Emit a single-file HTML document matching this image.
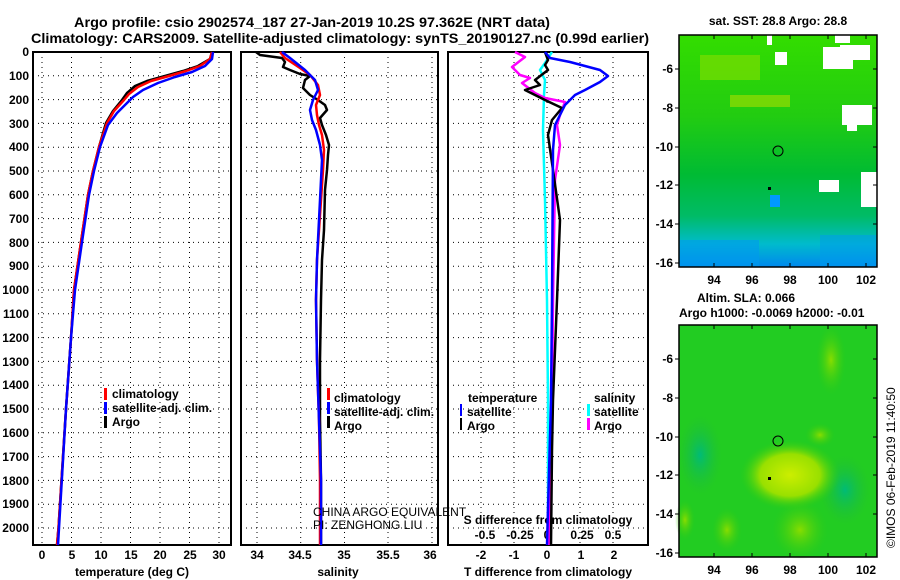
<!DOCTYPE html>
<html><head><meta charset="utf-8"><style>
body{margin:0;background:#fff;overflow:hidden;}
svg{display:block;font-family:"Liberation Sans",sans-serif;font-weight:bold;}
</style></head><body>
<svg width="900" height="580" viewBox="0 0 900 580" xmlns="http://www.w3.org/2000/svg">
<defs>
<linearGradient id="g1" x1="0" y1="0" x2="0" y2="1">
<stop offset="0" stop-color="#33dd00"/><stop offset="0.35" stop-color="#22cc11"/>
<stop offset="0.6" stop-color="#00bb33"/><stop offset="0.78" stop-color="#00bb66"/>
<stop offset="0.9" stop-color="#00bbcc"/><stop offset="1" stop-color="#0088ee"/>
</linearGradient>
<radialGradient id="y2" cx="0.5" cy="0.5" r="0.5"><stop offset="0" stop-color="#ccee00"/><stop offset="0.6" stop-color="#99e000"/><stop offset="1" stop-color="#33cc11" stop-opacity="0"/></radialGradient>
<radialGradient id="t2" cx="0.5" cy="0.5" r="0.5"><stop offset="0" stop-color="#00bb77"/><stop offset="1" stop-color="#22bb33" stop-opacity="0"/></radialGradient>
<radialGradient id="l2" cx="0.5" cy="0.5" r="0.5"><stop offset="0" stop-color="#88dd00"/><stop offset="1" stop-color="#33cc11" stop-opacity="0"/></radialGradient>
</defs>
<g font-size="14" text-anchor="middle">
<text x="312" y="27" textLength="476" lengthAdjust="spacingAndGlyphs">Argo profile: csio 2902574_187 27-Jan-2019 10.2S 97.362E (NRT data)</text>
<text x="340" y="43" textLength="618" lengthAdjust="spacingAndGlyphs">Climatology: CARS2009. Satellite-adjusted climatology: synTS_20190127.nc (0.99d earlier)</text>
</g>
<g stroke="#000" stroke-width="1" stroke-dasharray="1,4" fill="none">
<path id="hg" d="M33 75.8H231M33 99.6H231M33 123.4H231M33 147.2H231M33 171H231M33 194.8H231M33 218.6H231M33 242.4H231M33 266.2H231M33 290H231M33 313.8H231M33 337.6H231M33 361.4H231M33 385.2H231M33 409H231M33 432.8H231M33 456.6H231M33 480.4H231M33 504.2H231M33 528H231"/>
<use href="#hg" x="208"/><use href="#hg" x="415"/>
<path d="M42 52V545M71.5 52V545M101 52V545M130.5 52V545M160 52V545M189.5 52V545M219 52V545"/>
<path d="M257 52V545M300.7 52V545M344.5 52V545M388 52V545M432 52V545"/>
<path d="M481 52V545M514 52V545M547 52V545M580 52V545M613 52V545"/>
</g>
<g stroke="#000" stroke-width="2" fill="none">
<rect x="33" y="52" width="198" height="493"/>
<rect x="241" y="52" width="197" height="493"/>
<rect x="448" y="52" width="200" height="493"/>
</g>
<g font-size="12" text-anchor="end">
<text x="29" y="56">0</text><text x="29" y="80">100</text><text x="29" y="104">200</text><text x="29" y="128">300</text><text x="29" y="151">400</text><text x="29" y="175">500</text><text x="29" y="199">600</text><text x="29" y="223">700</text><text x="29" y="247">800</text><text x="29" y="270">900</text><text x="29" y="294">1000</text><text x="29" y="318">1100</text><text x="29" y="342">1200</text><text x="29" y="366">1300</text><text x="29" y="389">1400</text><text x="29" y="413">1500</text><text x="29" y="437">1600</text><text x="29" y="461">1700</text><text x="29" y="485">1800</text><text x="29" y="508">1900</text><text x="29" y="532">2000</text>
</g>
<g font-size="12" text-anchor="middle">
<text x="42" y="559">0</text><text x="72" y="559">5</text><text x="101" y="559">10</text><text x="131" y="559">15</text><text x="160" y="559">20</text><text x="190" y="559">25</text><text x="219" y="559">30</text>
<text x="132" y="576">temperature (deg C)</text>
<text x="257" y="559">34</text><text x="300" y="559">34.5</text><text x="344" y="559">35</text><text x="388" y="559">35.5</text><text x="430" y="559">36</text>
<text x="338" y="576">salinity</text>
<text x="481" y="559">-2</text><text x="514" y="559">-1</text><text x="547" y="559">0</text><text x="581" y="559">1</text><text x="614" y="559">2</text>
<text x="548" y="576">T difference from climatology</text>
<text x="485" y="539">-0.5</text><text x="520" y="539">-0.25</text><text x="547" y="539">0</text><text x="582" y="539">0.25</text><text x="613" y="539">0.5</text>
<text x="548" y="524">S difference from climatology</text>
</g>
<g fill="none" stroke-width="2.5" stroke-linejoin="round">
<polyline stroke="#000" points="212,52 210,59 198,66 183,71 165,76 147,81 135,86 127,93 122,100 113,111 106,123 99,147 93,171 88,195 81,242 74,290 71,338 66,409 58.5,528 57,545"/>
<polyline stroke="#f00" points="212,52 210,59 200,66 186,71 169,76 151,81 138,87 129,94 124,100 114,111 107,123 99,147 93,171 88,195 81,242 74,290 71,338 66,409 58.5,528 57,545"/>
<polyline stroke="#00f" points="213,52 212,59 205,66 192,72 175,77 158,83 143,90 133,97 127,103 117,113 108,125 100,147 94,171 89,195 82,242 75,290 71,338 66,409 59,528 58,545"/>
</g>
<g fill="none" stroke-width="2.5" stroke-linejoin="round">
<polyline stroke="#000" points="256,52 260,55 282,58 285,62 283,67 290,70 300,74 310,76 305,80 303,88 310,95 318,100 325,105 327,110 320,118 322,125 326,135 329,145 328,155 327,170 325,190 324,230 322,260 321,300 320,360 320,420 321,480 321,545"/>
<polyline stroke="#f00" points="280,52 285,58 300,68 310,75 318,85 320,95 316,105 317,115 319,125 322,135 324,150 323,170 321,200 319,230 317,260 316,300 317,360 319,420 320,480 320,545"/>
<polyline stroke="#00f" points="282,52 290,58 305,70 315,80 318,90 313,100 310,110 312,120 316,130 320,145 322,160 321,180 319,220 317,260 316,300 317,360 319,420 321,480 321,545"/>
</g>
<g fill="none" stroke-width="2.5" stroke-linejoin="round">
<polyline stroke="#0ff" points="552,52 545,63 540,70 545,80 544,95 543,130 545,200 547,300 548,400 548,545"/>
<polyline stroke="#f0f" points="515,52 525,57 512,67 520,75 530,78 522,83 535,93 545,98 565,102 560,115 557,125 560,145 555,180 553,300 552,400 549,545"/>
<polyline stroke="#000" points="545,52 548,60 545,65 548,70 535,80 540,85 525,90 545,100 562,108 552,120 548,135 553,170 560,220 557,300 553,400 552,450 551,545"/>
<polyline stroke="#00f" points="545,52 550,58 570,62 600,70 608,76 600,82 585,90 575,95 565,105 560,115 555,125 553,150 552,300 551,400 547,545"/>
</g>
<g font-size="12">
<rect x="104" y="388" width="3" height="12" fill="#f00"/><text x="112" y="398">climatology</text>
<rect x="104" y="402" width="3" height="12" fill="#00f"/><text x="112" y="412">satellite-adj. clim.</text>
<rect x="104" y="416" width="3" height="12" fill="#000"/><text x="112" y="426">Argo</text>
<rect x="327" y="388" width="3" height="12" fill="#f00"/><text x="334" y="402">climatology</text>
<rect x="327" y="402" width="3" height="12" fill="#00f"/><text x="334" y="416">satellite-adj. clim.</text>
<rect x="327" y="416" width="3" height="12" fill="#000"/><text x="334" y="430">Argo</text>
<text x="468" y="402">temperature</text>
<rect x="460" y="404" width="2" height="12" fill="#00f"/><text x="467" y="416">satellite</text>
<rect x="460" y="418" width="2" height="12" fill="#000"/><text x="467" y="430">Argo</text>
<text x="594" y="402">salinity</text>
<rect x="587" y="404" width="3" height="12" fill="#0ff"/><text x="594" y="416">satellite</text>
<rect x="587" y="418" width="3" height="12" fill="#f0f"/><text x="594" y="430">Argo</text>
<g font-weight="normal"><text x="313" y="516">CHINA ARGO EQUIVALENT</text><text x="313" y="529">PI: ZENGHONG LIU</text></g>
</g>
<g>
<rect x="679" y="35" width="198" height="232" fill="url(#g1)"/>
<rect x="700" y="55" width="60" height="25" fill="#88dd00" opacity="0.6"/>
<rect x="730" y="95" width="60" height="12" fill="#aadd00" opacity="0.6"/>
<rect x="679" y="240" width="80" height="27" fill="#0099ee" opacity="0.6"/>
<rect x="820" y="235" width="57" height="32" fill="#0099ee" opacity="0.5"/>
<rect x="770" y="195" width="10" height="12" fill="#0099ff"/>
<g fill="#fff">
<rect x="775" y="52" width="12" height="13"/><rect x="823" y="47" width="30" height="22"/><rect x="840" y="45" width="30" height="15"/>
<rect x="842" y="105" width="30" height="20"/><rect x="847" y="125" width="10" height="6"/><rect x="860" y="110" width="10" height="14"/>
<rect x="861" y="172" width="16" height="35"/><rect x="819" y="180" width="20" height="12"/><rect x="835" y="35" width="15" height="8"/>
<rect x="767" y="35" width="5" height="10"/>
</g>
</g>
<g fill="none" stroke="#000" stroke-width="1"><circle cx="778" cy="151" r="5"/><rect x="679" y="35" width="198" height="232" stroke-width="1.5"/>
<path d="M679 69h-4M679 108h-4M679 147h-4M679 185h-4M679 224h-4M679 263h-4M877 69h-4M877 108h-4M877 147h-4M877 185h-4M877 224h-4M714 267v-4M752 267v-4M790 267v-4M828 267v-4M866 267v-4M714 35v4M752 35v4M790 35v4M828 35v4M866 35v4"/></g>
<rect x="768" y="187" width="3" height="3" fill="#000"/>
<g>
<rect x="679" y="325" width="198" height="232" fill="#22cc22"/>
<ellipse cx="700" cy="455" rx="22" ry="40" fill="url(#t2)"/>
<ellipse cx="845" cy="490" rx="25" ry="35" fill="url(#t2)"/>
<ellipse cx="790" cy="475" rx="50" ry="35" fill="url(#y2)"/>
<ellipse cx="831" cy="360" rx="15" ry="35" fill="url(#l2)"/>
<ellipse cx="800" cy="530" rx="28" ry="30" fill="url(#l2)"/>
<ellipse cx="727" cy="530" rx="15" ry="22" fill="url(#l2)"/>
<ellipse cx="820" cy="435" rx="15" ry="12" fill="url(#l2)"/>
<ellipse cx="685" cy="520" rx="10" ry="20" fill="url(#l2)"/>
</g>
<g fill="none" stroke="#000" stroke-width="1"><circle cx="778" cy="441" r="5"/><rect x="679" y="325" width="198" height="232" stroke-width="1.5"/>
<path d="M679 359h-4M679 398h-4M679 437h-4M679 475h-4M679 514h-4M679 553h-4M877 359h-4M877 398h-4M877 437h-4M877 475h-4M877 514h-4M714 557v-4M752 557v-4M790 557v-4M828 557v-4M866 557v-4M714 325v4M752 325v4M790 325v4M828 325v4M866 325v4"/></g>
<rect x="768" y="477" width="3" height="3" fill="#000"/>
<g font-size="12">
<text x="778" y="25" text-anchor="middle">sat. SST: 28.8 Argo: 28.8</text>
<text x="697" y="302">Altim. SLA: 0.066</text>
<text x="679" y="317">Argo h1000: -0.0069 h2000: -0.01</text>
<g text-anchor="end">
<text x="673" y="73">-6</text><text x="673" y="112">-8</text><text x="673" y="151">-10</text><text x="673" y="189">-12</text><text x="673" y="228">-14</text><text x="673" y="267">-16</text>
<text x="673" y="363">-6</text><text x="673" y="402">-8</text><text x="673" y="441">-10</text><text x="673" y="479">-12</text><text x="673" y="518">-14</text><text x="673" y="557">-16</text>
</g>
<g text-anchor="middle">
<text x="714" y="284">94</text><text x="752" y="284">96</text><text x="790" y="284">98</text><text x="828" y="284">100</text><text x="866" y="284">102</text>
<text x="714" y="574">94</text><text x="752" y="574">96</text><text x="790" y="574">98</text><text x="828" y="574">100</text><text x="866" y="574">102</text>
</g>
<text transform="translate(895,548) rotate(-90)" font-weight="normal">©IMOS 06-Feb-2019 11:40:50</text>
</g>
</svg>
</body></html>
